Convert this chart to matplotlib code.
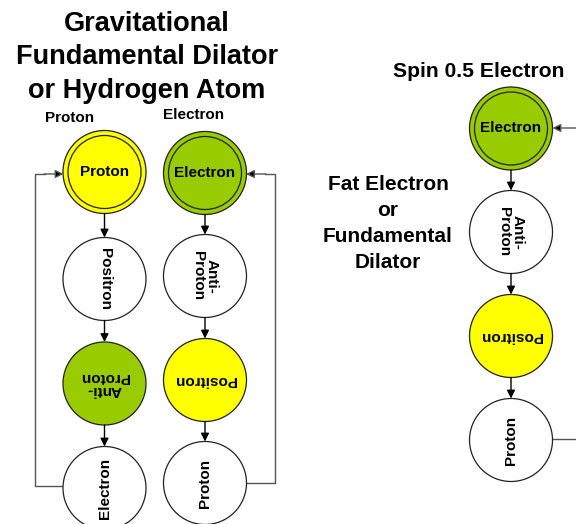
import matplotlib
matplotlib.use("Agg")
import matplotlib.pyplot as plt
from matplotlib.patches import Circle

plt.rcParams['font.family'] = ['Liberation Sans', 'DejaVu Sans']

# ---- content ----
title_lines = ["Gravitational", "Fundamental Dilator", "or Hydrogen Atom"]
col_headers = ["Proton", "Electron"]
side_title = "Spin 0.5 Electron"
side_label_lines = ["Fat Electron", "or", "Fundamental", "Dilator"]

col1_labels = ["Proton", "Positron", "Anti-\nProton", "Electron"]
col1_colors = ["#FFFF00", "white", "#99CC00", "white"]
col1_rot = [0, 270, 180, 90]

col2_labels = ["Electron", "Anti-\nProton", "Positron", "Proton"]
col2_colors = ["#99CC00", "white", "#FFFF00", "white"]
col2_rot = [0, 270, 180, 90]

col3_labels = ["Electron", "Anti-\nProton", "Positron", "Proton"]
col3_colors = ["#99CC00", "white", "#FFFF00", "white"]
col3_rot = [0, 270, 180, 90]

# ---- layout ----
W, H = 576, 524
fig = plt.figure(figsize=(W / 100, H / 100), dpi=100)
ax = fig.add_axes([0, 0, 1, 1])
ax.set_xlim(0, W)
ax.set_ylim(H, 0)
ax.axis('off')

R = 41.5
R_IN = 36.5
EDGE = "#222222"
LINE = "#555555"


def arrow(x0, y0, x1, y1, color="black"):
    ax.annotate("", xy=(x1, y1), xytext=(x0, y0),
                arrowprops=dict(arrowstyle='-|>', mutation_scale=12, lw=1,
                                color=color, fc="black", ec=color,
                                shrinkA=0, shrinkB=0))


def column(cx, ys, labels, colors, rots):
    for i, (cy, lab, col, rot) in enumerate(zip(ys, labels, colors, rots)):
        ax.add_patch(Circle((cx, cy), R, fc=col, ec=EDGE, lw=0.9, zorder=2))
        if i == 0:
            ax.add_patch(Circle((cx, cy), R_IN, fc=col, ec=EDGE, lw=0.9, zorder=3))
        ax.text(cx, cy, lab, ha='center', va='center', rotation=rot,
                fontsize=11, fontweight='bold', linespacing=0.95, zorder=4)
        if i < len(ys) - 1:
            arrow(cx, cy + R, cx, ys[i + 1] - R)


c1x, c2x, c3x = 104.5, 205, 511
c1y = [172, 279, 383.5, 488]
c2y = [173, 276, 380, 483]
c3y = [128.5, 232, 336, 440]

column(c1x, c1y, col1_labels, col1_colors, col1_rot)
column(c2x, c2y, col2_labels, col2_colors, col2_rot)
column(c3x, c3y, col3_labels, col3_colors, col3_rot)

# feedback loops
ax.plot([c1x - R, 35, 35, 45], [486, 486, 174, 174], color=LINE, lw=1, zorder=1)
arrow(44, 174, c1x - R + 0.5, 174, color=LINE)
ax.plot([c2x + R, 275, 275, 265], [483, 483, 174, 174], color=LINE, lw=1, zorder=1)
arrow(266, 174, c2x + R - 0.5, 174, color=LINE)
arrow(576, 128, c3x + R, 128, color=LINE)
ax.plot([c3x + R, 576], [439, 439], color=LINE, lw=1, zorder=1)

# titles
for t, yb in zip(title_lines, [31, 64, 98]):
    ax.text(147, yb, t, ha='center', va='baseline', fontsize=19.5, fontweight='bold')
ax.text(70, 121.5, col_headers[0], ha='center', va='baseline', fontsize=11, fontweight='bold')
ax.text(194, 119, col_headers[1], ha='center', va='baseline', fontsize=11, fontweight='bold')
ax.text(478.5, 77, side_title, ha='center', va='baseline', fontsize=15.2, fontweight='bold')
for t, yb in zip(side_label_lines, [190, 216, 242, 268]):
    ax.text(388, yb, t, ha='center', va='baseline', fontsize=15, fontweight='bold')

fig.savefig("out.png", dpi=100)
